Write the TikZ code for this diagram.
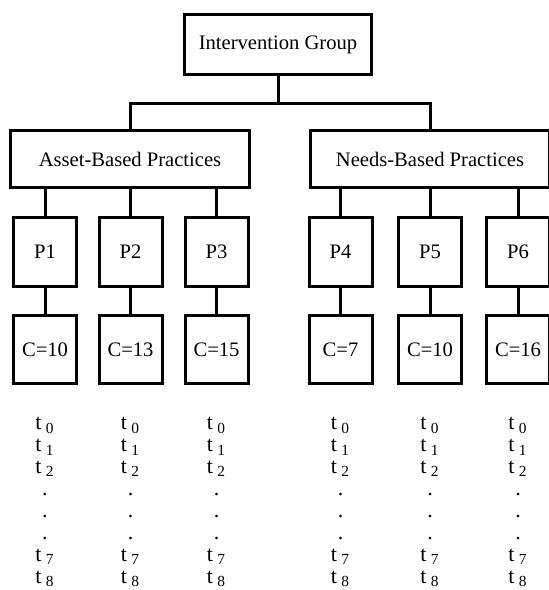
\documentclass[tikz,border=0pt]{standalone}
\usepackage{fontspec}
\setmainfont{Liberation Serif}
\usetikzlibrary{positioning}

\newcommand{\tpt}[1]{t\hspace{2.2pt}\textsubscript{#1}}

\tikzset{
  every node/.style={font=\fontsize{10.3}{12}\selectfont},
  box/.style={draw, line width=1.5pt, inner sep=0pt, align=center},
  topbox/.style={box, minimum width=93.5pt, minimum height=30pt},
  groupbox/.style={box, minimum width=119.5pt, minimum height=28.5pt},
  pbox/.style={box, minimum width=31.5pt, minimum height=34.5pt},
  cbox/.style={box, minimum width=31.5pt, minimum height=34pt},
  timelabel/.style={anchor=base, font=\fontsize{11}{12}\selectfont},
  link/.style={line width=1.5pt},
}

\begin{document}
\begin{tikzpicture}[x=0.5pt, y=-0.5pt]
  \useasboundingbox (0,0) rectangle (549,590);
  \clip (0,0) rectangle (549,590);

  % top level
  \node[topbox] (ig) at (278,44.5) {Intervention Group};
  \node[groupbox] (asset) at (130,159) {Asset-Based Practices};
  \node[groupbox] (needs) at (430,159) {Needs-Based Practices};
  \coordinate (bar) at (278,103);

  % practices
  \node[pbox] (p1) at (45,252) {P1};
  \node[pbox] (p2) at (130.5,252) {P2};
  \node[pbox] (p3) at (216.5,252) {P3};
  \node[pbox] (p4) at (340.5,252) {P4};
  \node[pbox] (p5) at (430,252) {P5};
  \node[pbox] (p6) at (518,252) {P6};

  % counts
  \node[cbox, below=13pt of p1] (c1) {C=10};
  \node[cbox, below=13pt of p2] (c2) {C=13};
  \node[cbox, below=13pt of p3] (c3) {C=15};
  \node[cbox, below=13pt of p4] (c4) {C=7};
  \node[cbox, below=13pt of p5] (c5) {C=10};
  \node[cbox, below=13pt of p6] (c6) {C=16};

  % connectors
  \draw[link] (ig.south) -- (bar);
  \draw[link] (asset.north) |- (bar) -| (needs.north);
  \foreach \p/\c in {p1/c1, p2/c2, p3/c3} {
    \draw[link] (\p.north) -- (\p.north |- asset.south);
    \draw[link] (\p.south) -- (\c.north);
  }
  \foreach \p/\c in {p4/c4, p5/c5, p6/c6} {
    \draw[link] (\p.north) -- (\p.north |- needs.south);
    \draw[link] (\p.south) -- (\c.north);
  }

  % time points
  \foreach \p in {p1,p2,p3,p4,p5,p6} {
    \foreach \lab [count=\i] in {{\tpt{0}}, {\tpt{1}}, {\tpt{2}},
        {.}, {.}, {.}, {\tpt{7}}, {\tpt{8}}} {
      \path (\p) ++(0,{156+21.9*\i}) node[timelabel] (\p-t\i) {\lab};
    }
  }
\end{tikzpicture}
\end{document}
